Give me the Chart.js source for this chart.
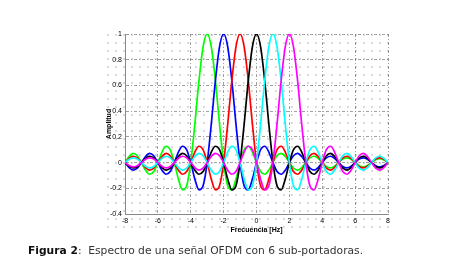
<!DOCTYPE html>
<html>
<head>
<meta charset="utf-8">
<script src="https://cdn.jsdelivr.net/npm/chart.js@4/dist/chart.umd.min.js"></script>
<style>
  html, body { margin: 0; padding: 0; background: #fff; }
  #wrap { position: relative; width: 470px; height: 272px; overflow: hidden; }
  #dots {
    position: absolute; left: 104px; top: 31px; width: 290px; height: 202px;
    background-image: radial-gradient(circle, #c4c4c4 0.6px, transparent 0.9px);
    background-size: 8px 8px;
  }
  #grafiek { position: absolute; left: 0; top: 0; }
  #caption {
    position: absolute; left: 28px; top: 244px;
    font-family: "DejaVu Sans", sans-serif; font-size: 10.7px; color: #333;
    white-space: pre;
  }
  #caption b { font-weight: bold; color: #111; }
</style>
</head>
<body>
<div id="wrap">
  <div id="dots"></div>
  <canvas id="grafiek" width="470" height="272"></canvas>
  <div id="caption"><b>Figura 2</b>:  Espectro de una señal OFDM con 6 sub-portadoras.</div>
</div>
<script>
// frecuencia (Hz), paso de 0.25
const frecuencia = [
  -8, -7.75, -7.5, -7.25, -7, -6.75, -6.5, -6.25,
  -6, -5.75, -5.5, -5.25, -5, -4.75, -4.5, -4.25,
  -4, -3.75, -3.5, -3.25, -3, -2.75, -2.5, -2.25,
  -2, -1.75, -1.5, -1.25, -1, -0.75, -0.5, -0.25,
  0, 0.25, 0.5, 0.75, 1, 1.25, 1.5, 1.75,
  2, 2.25, 2.5, 2.75, 3, 3.25, 3.5, 3.75,
  4, 4.25, 4.5, 4.75, 5, 5.25, 5.5, 5.75,
  6, 6.25, 6.5, 6.75, 7, 7.25, 7.5, 7.75,
  8
];

// sub-portadora centrada en -3 Hz
const portadoraVerde = [
  0, 0.047, 0.071, 0.053, 0, -0.060, -0.091, -0.069,
  0, 0.082, 0.127, 0.100, 0, -0.129, -0.212, -0.180,
  0, 0.300, 0.637, 0.900, 1, 0.900, 0.637, 0.300,
  0, -0.180, -0.212, -0.129, 0, 0.100, 0.127, 0.082,
  0, -0.069, -0.091, -0.060, 0, 0.053, 0.071, 0.047,
  0, -0.043, -0.058, -0.039, 0, 0.036, 0.049, 0.033,
  0, -0.031, -0.042, -0.029, 0, 0.027, 0.037, 0.026,
  0, -0.024, -0.034, -0.023, 0, 0.022, 0.030, 0.021,
  0
];

// sub-portadora centrada en -2 Hz
const portadoraAzul = [
  0, -0.039, -0.058, -0.043, 0, 0.047, 0.071, 0.053,
  0, -0.060, -0.091, -0.069, 0, 0.082, 0.127, 0.100,
  0, -0.129, -0.212, -0.180, 0, 0.300, 0.637, 0.900,
  1, 0.900, 0.637, 0.300, 0, -0.180, -0.212, -0.129,
  0, 0.100, 0.127, 0.082, 0, -0.069, -0.091, -0.060,
  0, 0.053, 0.071, 0.047, 0, -0.043, -0.058, -0.039,
  0, 0.036, 0.049, 0.033, 0, -0.031, -0.042, -0.029,
  0, 0.027, 0.037, 0.026, 0, -0.024, -0.034, -0.023,
  0
];

// sub-portadora centrada en -1 Hz
const portadoraRoja = [
  0, 0.033, 0.049, 0.036, 0, -0.039, -0.058, -0.043,
  0, 0.047, 0.071, 0.053, 0, -0.060, -0.091, -0.069,
  0, 0.082, 0.127, 0.100, 0, -0.129, -0.212, -0.180,
  0, 0.300, 0.637, 0.900, 1, 0.900, 0.637, 0.300,
  0, -0.180, -0.212, -0.129, 0, 0.100, 0.127, 0.082,
  0, -0.069, -0.091, -0.060, 0, 0.053, 0.071, 0.047,
  0, -0.043, -0.058, -0.039, 0, 0.036, 0.049, 0.033,
  0, -0.031, -0.042, -0.029, 0, 0.027, 0.037, 0.026,
  0
];

// sub-portadora centrada en 0 Hz
const portadoraNegra = [
  0, -0.029, -0.042, -0.031, 0, 0.033, 0.049, 0.036,
  0, -0.039, -0.058, -0.043, 0, 0.047, 0.071, 0.053,
  0, -0.060, -0.091, -0.069, 0, 0.082, 0.127, 0.100,
  0, -0.129, -0.212, -0.180, 0, 0.300, 0.637, 0.900,
  1, 0.900, 0.637, 0.300, 0, -0.180, -0.212, -0.129,
  0, 0.100, 0.127, 0.082, 0, -0.069, -0.091, -0.060,
  0, 0.053, 0.071, 0.047, 0, -0.043, -0.058, -0.039,
  0, 0.036, 0.049, 0.033, 0, -0.031, -0.042, -0.029,
  0
];

// sub-portadora centrada en 1 Hz
const portadoraCian = [
  0, 0.026, 0.037, 0.027, 0, -0.029, -0.042, -0.031,
  0, 0.033, 0.049, 0.036, 0, -0.039, -0.058, -0.043,
  0, 0.047, 0.071, 0.053, 0, -0.060, -0.091, -0.069,
  0, 0.082, 0.127, 0.100, 0, -0.129, -0.212, -0.180,
  0, 0.300, 0.637, 0.900, 1, 0.900, 0.637, 0.300,
  0, -0.180, -0.212, -0.129, 0, 0.100, 0.127, 0.082,
  0, -0.069, -0.091, -0.060, 0, 0.053, 0.071, 0.047,
  0, -0.043, -0.058, -0.039, 0, 0.036, 0.049, 0.033,
  0
];

// sub-portadora centrada en 2 Hz
const portadoraMagenta = [
  0, -0.023, -0.034, -0.024, 0, 0.026, 0.037, 0.027,
  0, -0.029, -0.042, -0.031, 0, 0.033, 0.049, 0.036,
  0, -0.039, -0.058, -0.043, 0, 0.047, 0.071, 0.053,
  0, -0.060, -0.091, -0.069, 0, 0.082, 0.127, 0.100,
  0, -0.129, -0.212, -0.180, 0, 0.300, 0.637, 0.900,
  1, 0.900, 0.637, 0.300, 0, -0.180, -0.212, -0.129,
  0, 0.100, 0.127, 0.082, 0, -0.069, -0.091, -0.060,
  0, 0.053, 0.071, 0.047, 0, -0.043, -0.058, -0.039,
  0
];

const ticksX = [-8, -6, -4, -2, 0, 2, 4, 6, 8];
const ticksY = [-0.4, -0.2, 0, 0.2, 0.4, 0.6, 0.8, 1];

function serie(label, valores, kleur, volgorde) {
  return {
    label: label,
    data: frecuencia.map((f, i) => ({ x: f, y: valores[i] })),
    borderColor: kleur,
    borderWidth: 1.7,
    pointRadius: 0,
    cubicInterpolationMode: 'monotone',
    fill: false,
    order: volgorde,
  };
}

const tickFont = { family: 'Liberation Sans', size: 7 };
const titleFont = { family: 'Liberation Sans', size: 7, weight: 'bold' };

const ctx = document.getElementById('grafiek').getContext('2d');
const chart = new Chart(ctx, {
  type: 'line',
  data: {
    datasets: [
      serie('-3 Hz', portadoraVerde, '#00ff00', 6),
      serie('-2 Hz', portadoraAzul, '#0000ff', 5),
      serie('-1 Hz', portadoraRoja, '#ff0000', 4),
      serie('0 Hz', portadoraNegra, '#000000', 3),
      serie('1 Hz', portadoraCian, '#00ffff', 2),
      serie('2 Hz', portadoraMagenta, '#ff00ff', 1),
    ]
  },
  options: {
    responsive: false,
    maintainAspectRatio: false,
    animation: false,
    layout: { padding: { left: 105, right: 82, top: 34, bottom: 38 } },
    plugins: {
      legend: { display: false },
      tooltip: { enabled: false },
    },
    scales: {
      x: {
        type: 'linear',
        min: -8,
        max: 8,
        afterBuildTicks: s => { s.ticks = ticksX.map(v => ({ value: v })); },
        afterFit: s => { s.height = 20; },
        grid: { color: '#777', lineWidth: 0.7, drawTicks: false },
        border: { display: true, color: '#888', width: 1, dash: [3, 2, 1, 2] },
        ticks: { font: tickFont, color: '#000', padding: 3, maxRotation: 0 },
        title: { display: true, text: 'Frecuencia [Hz]', font: titleFont, color: '#000', padding: { top: 0, bottom: 0 } }
      },
      y: {
        min: -0.4,
        max: 1,
        afterBuildTicks: s => { s.ticks = ticksY.map(v => ({ value: v })); },
        afterFit: s => { s.width = 20; },
        grid: { color: '#777', lineWidth: 0.7, drawTicks: false },
        border: { display: true, color: '#888', width: 1, dash: [3, 2, 1, 2] },
        ticks: { font: tickFont, color: '#000', padding: 3, callback: v => String(+v.toFixed(1)) },
        title: { display: true, text: 'Amplitud', font: titleFont, color: '#000', padding: { top: 0, bottom: 0 } }
      }
    }
  }
});
</script>
</body>
</html>
